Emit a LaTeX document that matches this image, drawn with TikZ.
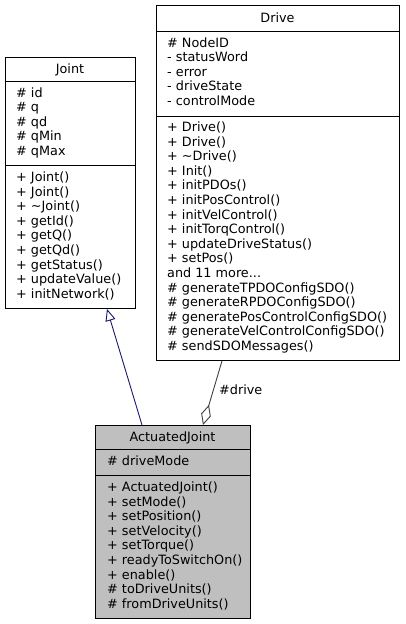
\documentclass[tikz,border=0pt]{standalone}
\usepackage{fontspec}
\setmainfont{DejaVu Sans}
\usetikzlibrary{arrows.meta}
\definecolor{ajfill}{HTML}{BFBFBF}
\definecolor{inhcol}{HTML}{191970}
\definecolor{aggcol}{HTML}{404040}
\newcommand\umlLines[4]{%
  \foreach \t [count=\i from 0] in {#4}
    \node[txt, anchor=base west] (#1-\i) at (#2, #3+14.6*\i) {\t};}
\begin{document}
\begin{tikzpicture}[x=1pt, y=-1pt,
  txt/.style={inner sep=0pt, font=\fontsize{12.8}{14.6}\selectfont},
  box/.style={draw=black, line width=0.9pt, inner sep=0pt, anchor=north west},
  sep/.style={draw=black, line width=0.9pt},
  inh/.style={draw=inhcol, line width=0.9pt, -{Triangle[open, length=12pt, width=10pt, fill=white]}},
  agg/.style={draw=aggcol, line width=0.9pt, -{Diamond[open, length=21pt, width=10pt, fill=white]}}]
\useasboundingbox (0,0) rectangle (405,624);
\fill[white] (0,0) rectangle (405,624);

% Joint
\node[box, minimum width=130pt, minimum height=251pt] (joint) at (5,57) {};
\draw[sep] ([yshift=-24pt]joint.north west) -- ([yshift=-24pt]joint.north east);
\draw[sep] ([yshift=-108pt]joint.north west) -- ([yshift=-108pt]joint.north east);
\node[txt, anchor=base] (joint-t) at (70,73) {Joint};
\umlLines{ja}{16}{97}{\# id,\# q,\# qd,\# qMin,\# qMax}
\umlLines{jm}{16}{181.5}{+ Joint(),+ Joint(),+ \textasciitilde Joint(),+ getId(),+ getQ(),+ getQd(),+ getStatus(),+ updateValue(),+ initNetwork()}

% Drive
\node[box, minimum width=243pt, minimum height=355pt] (drive) at (156,5) {};
\draw[sep] ([yshift=-26pt]drive.north west) -- ([yshift=-26pt]drive.north east);
\draw[sep] ([yshift=-111pt]drive.north west) -- ([yshift=-111pt]drive.north east);
\node[txt, anchor=base] (drive-t) at (277.5,22) {Drive};
\umlLines{da}{167}{47}{\# NodeID,- statusWord,- error,- driveState,- controlMode}
\umlLines{dm}{167}{131.5}{+ Drive(),+ Drive(),+ \textasciitilde Drive(),+ Init(),+ initPDOs(),+ initPosControl(),+ initVelControl(),+ initTorqControl(),+ updateDriveStatus(),+ setPos(),{and 11 more.{}.{}.},\# generateTPDOConfigSDO(),\# generateRPDOConfigSDO(),\# generatePosControlConfigSDO(),\# generateVelControlConfigSDO(),\# sendSDOMessages()}

% ActuatedJoint
\node[box, fill=ajfill, minimum width=155pt, minimum height=193pt] (aj) at (95,425) {};
\draw[sep] ([yshift=-24pt]aj.north west) -- ([yshift=-24pt]aj.north east);
\draw[sep] ([yshift=-50pt]aj.north west) -- ([yshift=-50pt]aj.north east);
\node[txt, anchor=base] (aj-t) at (172.5,441) {ActuatedJoint};
\umlLines{aa}{107}{465}{\# driveMode}
\umlLines{am}{107}{491.5}{+ ActuatedJoint(),+ setMode(),+ setPosition(),+ setVelocity(),+ setTorque(),+ readyToSwitchOn(),+ enable(),\# toDriveUnits(),\# fromDriveUnits()}

% connectors
\draw[inh] ([xshift=47pt]aj.north west) -- ([xshift=102pt]joint.south west);
\draw[agg] ([xshift=66pt]drive.south west) -- ([xshift=108pt]aj.north west);
\node[txt, anchor=base west] (lbl) at (219,394) {\#drive};
\end{tikzpicture}
\end{document}
